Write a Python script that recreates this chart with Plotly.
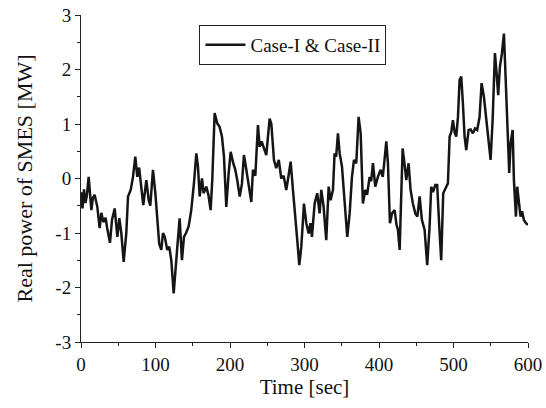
import plotly.graph_objects as go

time_sec = [0, 2, 4, 6, 8, 10.3, 13.9, 16, 18.3, 21.9, 25, 27.3, 30, 33, 35, 38.9, 41.6, 45.2, 48.8, 51.4,
            54.1, 57.3, 60.8, 63.1, 66.7, 69.8, 72.9, 75.6, 78, 81, 83.6, 87.7, 90.8, 93, 96.6, 99.8,
            103.3, 105, 107.8, 110, 112.5, 115.8, 118.5, 121.2, 124.4, 126.5, 129.3, 132.4, 135.5, 138.2,
            141, 144.5, 148, 151.6, 154.8, 157, 159.3, 162.4, 164.6, 168.2, 171, 174, 176.2, 179.4, 182.9,
            186, 189.2, 191.9, 195, 198.2, 200.9, 204, 207.1, 210, 213, 216, 218.7, 221.9, 225, 228.6,
            230.8, 234, 237.5, 239.8, 242.5, 245.6, 248.7, 253.2, 255.5, 259, 262.1, 265.5, 268.8, 272,
            275.5, 278, 281.4, 284.5, 287.6, 290.3, 293, 295.7, 299.3, 302.4, 305.6, 308, 310, 313.6,
            317.1, 320.3, 322.5, 325.5, 329.2, 332.4, 335, 338.2, 340.4, 342.5, 344.9, 347.2, 350.3,
            353.9, 357.4, 360.6, 363.7, 366.4, 369.5, 372.6, 375.4, 378.4, 381.5, 384, 387.4, 389.5,
            391.9, 395, 398.5, 402.2, 405, 407, 409.8, 412, 414.7, 417.5, 421, 423.5, 425.4, 427.7,
            429.9, 431.7, 434, 436.6, 439.7, 442.4, 445.5, 448.7, 451.5, 454.5, 457.6, 461.2, 464.7,
            467.9, 470.1, 472.5, 475.5, 478.1, 480.9, 483.5, 486.2, 489, 492.5, 494.8, 497, 499.2,
            501.5, 503.7, 506, 508.2, 510.4, 512.6, 514.9, 517.1, 520.3, 523, 526, 529, 531.8, 535,
            537.7, 540.8, 544.5, 548, 549.8, 552.5, 555.6, 558, 560, 562.3, 565, 567.7, 570.4, 572.1,
            574.8, 576.7, 579.4, 581.1, 583.8, 585.5, 588, 590, 592, 594.5, 597.2, 600]
power_mw = [-0.25, -0.55, -0.2, -0.45, -0.3, 0.03, -0.58, -0.35, -0.3, -0.52, -0.91, -0.63, -0.8, -0.72, -0.9,
            -1.18, -0.76, -0.55, -1.07, -0.73, -1.0, -1.53, -1.0, -0.33, -0.21, 0.03, 0.40, 0.03, 0.2, -0.21,
            -0.49, -0.03, -0.39, -0.5, 0.16, -0.27, -0.88, -1.2, -1.31, -1.0, -1.07, -1.31, -1.25, -1.5,
            -2.11, -1.8, -1.25, -0.73, -1.5, -1.07, -1.0, -0.88, -0.58, -0.09, 0.46, 0.22, -0.33, 0.0, -0.27,
            -0.15, -0.3, -0.58, -0.03, 1.20, 1.01, 0.95, 0.77, 0.40, -0.52, 0.10, 0.49, 0.3, 0.16, -0.05,
            -0.33, -0.1, 0.43, 0.16, -0.15, -0.43, 0.16, 0.05, 0.98, 0.58, 0.68, 0.55, 0.43, 1.10, 1.0, 0.34,
            0.19, 0.34, 0.0, 0.05, -0.21, 0.0, 0.31, -0.21, -0.64, -1.13, -1.59, -1.25, -0.46, -0.82, -1.01,
            -0.82, -1.07, -0.46, -0.27, -0.64, -0.21, -0.5, -1.13, -0.15, -0.4, -0.21, 0.46, 0.4, 0.83, 0.46,
            0.22, -0.52, -1.07, -0.64, 0.03, 0.34, 0.28, 1.13, 0.83, -0.46, -0.21, -0.3, 0.03, -0.05, 0.28,
            -0.15, 0.03, 0.16, 0.03, 0.28, 0.68, 0.28, -0.82, -0.64, -0.58, -0.85, -0.94, -1.31, -0.33, 0.55,
            0.3, -0.03, 0.28, -0.21, -0.46, -0.64, -0.7, -0.33, -0.76, -0.94, -1.59, -0.88, -0.15, -0.25,
            -0.12, -0.12, -0.88, -1.5, -0.27, -0.2, -0.09, 0.77, 0.85, 1.07, 0.85, 0.77, 1.13, 1.81, 1.87,
            1.38, 0.77, 0.52, 0.89, 0.9, 0.83, 0.92, 0.89, 1.13, 1.75, 1.50, 1.01, 0.58, 0.34, 1.07, 2.30,
            1.9, 1.53, 2.05, 2.3, 2.66, 1.68, 0.89, 0.10, 0.65, 0.89, -0.03, -0.70, -0.15, -0.45, -0.70,
            -0.6, -0.76, -0.82, -0.85]

x_ticks = [0, 100, 200, 300, 400, 500, 600]
y_ticks = [-3, -2, -1, 0, 1, 2, 3]
y_tick_text = ["-3", "-2", "-1", "0", "1", "2", "3"]

font_family = "Liberation Serif, Times New Roman, serif"

fig = go.Figure()
fig.add_trace(go.Scatter(
    x=time_sec, y=power_mw, mode="lines", name="Case-I & Case-II",
    line=dict(color="#151515", width=2.5),
))

axis_common = dict(
    showline=True, linecolor="#222", linewidth=1, mirror=False,
    showgrid=False, zeroline=False,
    ticks="outside", ticklen=5, tickcolor="#222", tickwidth=1,
    tickfont=dict(family=font_family, size=19, color="#111"),
)

fig.update_layout(
    width=546, height=408,
    margin=dict(l=81, r=18, t=15, b=66, autoexpand=False),
    paper_bgcolor="white", plot_bgcolor="white",
    font=dict(family=font_family, size=19, color="#111"),
    xaxis=dict(range=[0, 600], tickvals=x_ticks,
               minor=dict(ticks="outside", ticklen=3, dtick=50, tickcolor="#222"),
               title=dict(text="Time [sec]", font=dict(family=font_family, size=21), standoff=4),
               **axis_common),
    yaxis=dict(range=[-3, 3], tickvals=y_ticks, ticktext=y_tick_text,
               minor=dict(ticks="outside", ticklen=3, dtick=0.5, tickcolor="#222"),
               title=dict(text="Real power of SMES [MW]", font=dict(family=font_family, size=22), standoff=16),
               **axis_common),
    showlegend=True,
    legend=dict(x=0.265, y=0.97, xanchor="left", yanchor="top",
                bordercolor="#222", borderwidth=1, bgcolor="white",
                font=dict(family=font_family, size=19, color="#111"),
                itemwidth=40, tracegroupgap=0),
)

fig.write_html("out.html")
